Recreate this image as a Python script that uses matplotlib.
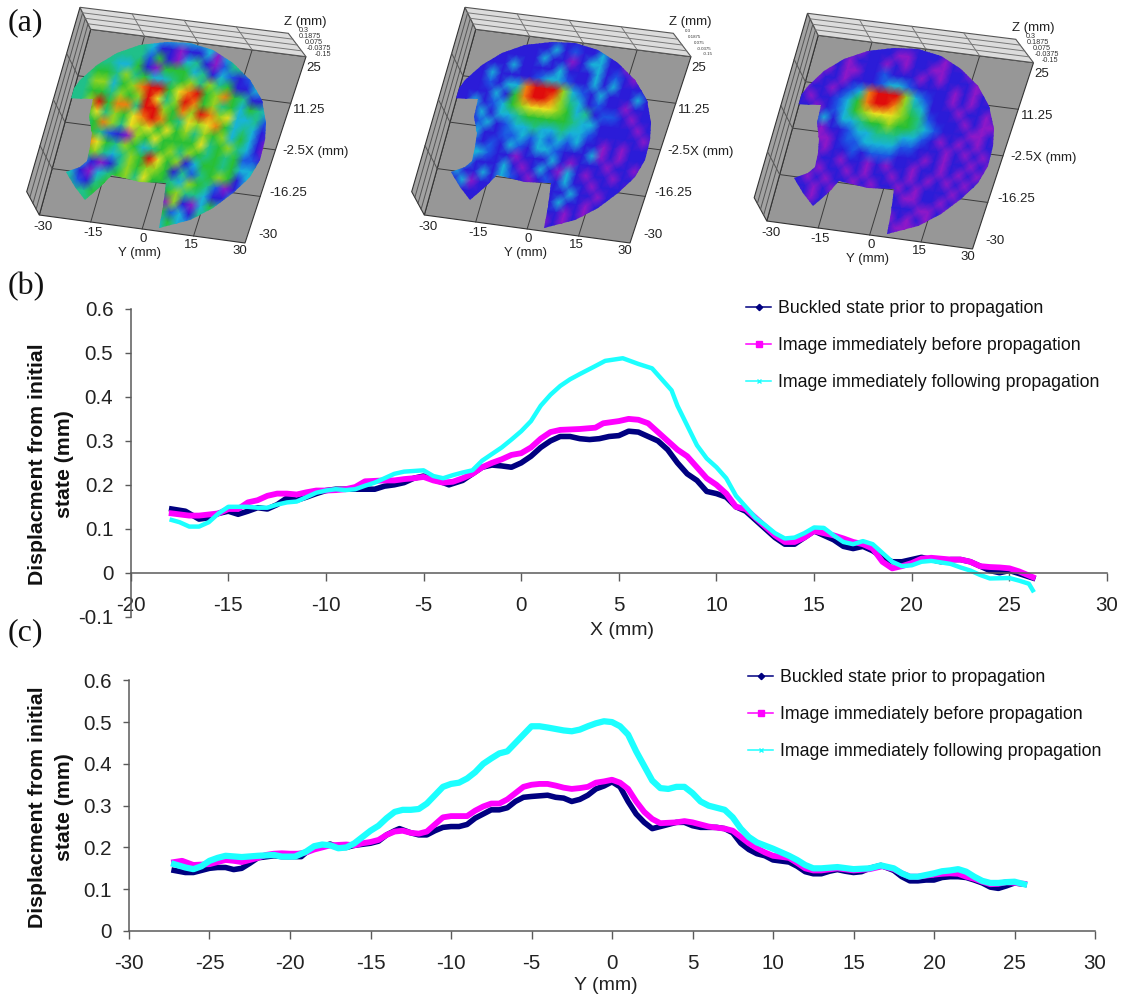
import numpy as np
import matplotlib
matplotlib.use("Agg")
import matplotlib.pyplot as plt
from matplotlib.colors import LinearSegmentedColormap
from matplotlib.lines import Line2D
from matplotlib.patches import Polygon

W, H = 1123, 999

# profile along X, panel (b)
bx1 = [-17.9,-17.2,-16.5,-16,-15.5,-15,-14.5,-14,-13.5,-13,-12.5,-12,-11.5,-11,-10.5,-10,-9.5,-9,-8.5,-8,-7.5,-7,-6.5,-6,-5.5,-5,-4.5,-4,-3.7,-3,-2.5,-2,-1.5,-1,-0.5,0,0.5,1,1.5,2,2.5,3,3.5,4,4.5,5,5.5,6,6.5,7,7.5,8,8.5,9,9.5,10,10.5,11,11.5,12,12.5,13,13.5,14,14.5,15,15.5,16,16.5,17,17.5,18,18.5,19,19.5,20,20.5,21,21.5,22,22.5,23,23.5,24,24.5,25,25.5,26.2]
by1 = [.145,.14,.122,.125,.135,.14,.133,.14,.148,.145,.155,.17,.165,.172,.18,.187,.19,.19,.19,.19,.19,.197,.2,.205,.215,.22,.212,.205,.2,.21,.225,.24,.245,.243,.24,.25,.265,.285,.3,.31,.31,.305,.303,.305,.31,.312,.322,.32,.31,.3,.28,.25,.225,.21,.185,.18,.172,.15,.14,.12,.1,.08,.065,.065,.08,.095,.085,.075,.06,.055,.06,.05,.035,.025,.025,.03,.035,.03,.025,.03,.03,.025,.015,.005,0,.005,-.002,-.012]
bx2 = [-17.9,-17,-16.5,-15.5,-15,-14.5,-14,-13.5,-13,-12.5,-12,-11.5,-11,-10.5,-10,-9.5,-9,-8.5,-8,-7,-6.5,-6,-5.5,-5,-4.5,-4,-3.5,-3,-2.5,-2,-1.5,-1,-.5,0,.5,1,1.5,2,3,3.8,4.2,5,5.5,6,6.5,7,7.5,8,8.5,9,9.5,10,10.5,11,11.5,12,12.5,13,13.5,14,14.5,15,15.5,16,16.5,17,17.5,18,18.5,19,19.5,20,20.5,21,22,22.5,23,23.5,24,24.5,25,25.5,26.2]
by2 = [.135,.13,.13,.135,.145,.145,.16,.165,.175,.18,.18,.178,.183,.187,.187,.188,.19,.195,.208,.21,.21,.213,.215,.218,.21,.205,.207,.215,.225,.24,.25,.258,.268,.272,.285,.305,.32,.325,.327,.33,.34,.345,.35,.348,.34,.32,.3,.28,.265,.24,.215,.2,.18,.15,.145,.125,.105,.085,.07,.07,.08,.095,.09,.085,.078,.07,.065,.055,.025,.01,.015,.022,.032,.034,.03,.03,.025,.015,.013,.012,.01,.003,-.01]
bx3 = [-17.9,-17.5,-17,-16.5,-16,-15.5,-15,-14.5,-14,-13.5,-13,-12.5,-12,-11.5,-11,-10.5,-10,-9.5,-9,-8.5,-8,-7.5,-7,-6.5,-6,-5,-4.5,-4,-3.5,-3,-2.5,-2,-1.5,-1,-.5,0,.5,1,1.5,2,2.5,3,3.7,4.3,5.2,6,6.7,7.2,7.7,8,8.5,9,9.5,10,10.5,11,11.5,12,12.5,13,13.5,14,14.5,15,15.5,16,16.5,17,17.5,18,18.5,19,19.5,20,20.5,21,22,22.5,23,23.5,24,25,25.5,26,26.2]
by3 = [.12,.115,.105,.105,.115,.135,.15,.15,.15,.148,.148,.155,.16,.162,.172,.182,.187,.19,.188,.19,.198,.205,.215,.225,.23,.233,.22,.215,.222,.228,.233,.255,.27,.285,.303,.322,.345,.38,.405,.425,.44,.452,.468,.482,.488,.475,.465,.44,.415,.38,.335,.29,.26,.24,.215,.175,.15,.125,.108,.09,.078,.08,.09,.103,.102,.085,.07,.065,.072,.065,.045,.025,.015,.017,.025,.027,.02,.012,.005,-.005,-.013,-.012,-.018,-.025,-.04]

# profile along Y, panel (c)
cx1 = [-27.2,-26.5,-26,-25.5,-25,-24.5,-24,-23.5,-23,-22.5,-22,-21,-20.5,-20,-19.3,-19,-18.5,-18,-17.5,-17,-16.5,-16,-15,-14.5,-14,-13.5,-13.2,-12.5,-12,-11.5,-11,-10.5,-10,-9.5,-9,-8.5,-8,-7.5,-7,-6.5,-6,-5.5,-5,-4,-3.5,-3,-2.5,-2,-1.5,-1,-.5,0,.5,1,1.5,2,2.5,3,3.5,4,4.5,5,5.5,6.5,7,7.5,8,8.5,9,9.5,10,11,11.5,12,12.5,13,13.5,14,14.5,15,15.5,16,16.7,17.5,18,18.5,19,19.5,20,20.5,21,21.5,22,22.5,23,23.5,24,24.5,25,25.6]
cy1 = [.145,.14,.14,.145,.15,.152,.152,.147,.15,.162,.175,.18,.178,.178,.178,.188,.198,.203,.208,.2,.2,.205,.21,.215,.23,.24,.245,.235,.23,.23,.24,.248,.25,.25,.255,.27,.28,.29,.29,.295,.31,.32,.322,.325,.32,.318,.31,.315,.325,.34,.347,.357,.345,.31,.28,.26,.245,.25,.255,.26,.26,.252,.248,.248,.245,.235,.21,.195,.185,.18,.17,.165,.155,.142,.137,.137,.143,.147,.143,.14,.142,.15,.157,.145,.13,.12,.12,.122,.122,.128,.13,.13,.128,.122,.115,.105,.102,.108,.115,.112]
cx2 = [-27.2,-26.7,-26,-25,-24.5,-24,-23.5,-23,-22.5,-22,-21.5,-21,-20.5,-20,-19.5,-19,-18.5,-18,-17.5,-16.5,-16,-15.5,-15,-14.5,-14,-13.5,-13,-12.5,-12,-11.5,-11,-10.5,-10,-9.5,-9,-8.5,-8,-7.5,-7,-6.5,-6,-5.5,-5,-4.5,-4,-3.5,-3,-2.5,-2,-1.5,-1,-.5,0,.5,1,1.5,2,2.5,3,4,4.5,5,6,7,7.5,8,8.5,9,9.5,10,11,11.5,12,12.5,13,14,15,16,16.8,17.5,18,18.5,19,20,20.5,21,21.5,22,22.5,23,23.5,24,24.5,25.6]
cy2 = [.165,.168,.158,.16,.165,.17,.168,.165,.17,.175,.182,.185,.186,.185,.185,.188,.195,.2,.205,.207,.205,.21,.213,.218,.23,.238,.24,.235,.233,.238,.255,.272,.275,.275,.275,.288,.298,.305,.305,.315,.33,.345,.35,.352,.352,.348,.343,.34,.342,.345,.355,.358,.362,.355,.34,.31,.285,.268,.258,.26,.263,.26,.25,.245,.24,.225,.21,.198,.188,.18,.175,.163,.15,.145,.145,.15,.145,.148,.155,.148,.138,.13,.13,.135,.137,.138,.137,.13,.125,.118,.112,.113,.117,.113]
cx3 = [-27.2,-26.5,-26,-25.5,-25,-24.5,-24,-23,-22,-21,-20.5,-19.7,-19,-18.5,-18,-17.5,-17,-16.5,-16,-15.5,-15,-14.5,-14,-13.5,-13,-12.5,-12,-11.5,-11,-10.5,-10,-9.5,-9,-8.5,-8,-7.5,-7,-6.5,-6,-5.5,-5,-4.5,-4,-3,-2.5,-2,-1.5,-1,-.5,0,.5,1,1.5,2,2.5,3,3.5,4,4.5,5,5.5,6,6.5,7,7.5,8,8.5,9,10,11,11.5,12,12.5,13,14,15,16,16.7,17.5,18,18.5,19,20,20.5,21,21.5,22,22.5,23,23.5,24,24.5,25,25.6]
cy3 = [.16,.152,.148,.155,.168,.175,.18,.177,.18,.182,.178,.178,.19,.203,.207,.205,.198,.2,.21,.225,.24,.252,.27,.285,.29,.29,.292,.305,.325,.345,.352,.355,.365,.38,.4,.413,.425,.43,.45,.47,.49,.49,.487,.48,.478,.482,.49,.497,.502,.5,.49,.47,.43,.395,.36,.342,.34,.345,.345,.33,.31,.3,.295,.29,.272,.245,.225,.212,.197,.18,.17,.158,.15,.15,.153,.148,.15,.157,.15,.138,.13,.13,.138,.143,.145,.148,.142,.13,.12,.115,.115,.117,.118,.112]

labels = ["Buckled state prior to propagation",
          "Image immediately before propagation",
          "Image immediately following propagation"]

surf_a = ["444444433333333344444444","444444431101130344444444","444444425103410244344444","444433510555341321244444",
          "445546453345646451133444","446635689957895685411344","445546569746985645354344","446958849965869867334234",
          "445746578985476785343123","444586476757564656353102","443542106575555745643102","444875465345646545452215",
          "444564346597561355453344","444310146566514245651344","443103456475543654201344","444214564655256443113444",
          "444445453455106103534444","444444444454352314344444","444444444444135334444444","444444444444434444444444"]
surf_b = ["111111111111111111111111","111111111312113111111111","111111113110133110211111","111113111131113121011111",
          "111311112332113131111111","111213389996321311131111","111131589986431211011111","113123567776534122101111",
          "111313345555543311110111","111231233433433211111011","111311223232323110101111","111212132133211130101111",
          "111332110111310111011011","111311131013103101101111","113113132101213110111011","111301131110111311011111",
          "111111101310113110111111","111111100111011010111111","111111111101001011111111","111111111111111111111111"]
surf_c = ["111111111111111111111111","110110111001110100110111","101101110101100110101101","110100112111010111001011",
          "101101112332111101010110","011012389996321101011010","101123589986431110110101","110123567776542111010011",
          "011313345565543211100101","101011233444332101010110","011001223333221110101011","101101121222111010110101",
          "011011011010110110101011","101101101011010101010110","011010110101101011101011","101101011010110011010110",
          "110101100101011100100111","111011010100101010110111","111111001011010001111111","111111111111111111111111"]

# pixel trace of the measured surface in the left view
outline = [(200,295),(240,240),(290,195),(350,160),(420,135),(500,125),(570,130),(640,150),(700,190),(750,240),(785,300),
           (798,370),(795,420),(780,480),(750,530),(700,580),(640,625),(570,660),(478,683),(490,620),(498,550),(420,545),
           (335,525),(300,560),(255,600),(225,560),(198,515),(240,500),(262,482),(270,440),(275,400),(268,350),(280,298)]
z_ticks = ["0.3", "0.1875", "0.075", "-0.0375", "-0.15"]
x3_ticks = ["25", "11.25", "-2.5", "-16.25", "-30"]
y3_ticks = ["-30", "-15", "0", "15", "30"]

rainbow = LinearSegmentedColormap.from_list("r", ["#9018c8", "#2a1cd8", "#1c58e4", "#18b4d8", "#20c088",
                                                  "#28c034", "#94d420", "#ece420", "#f08010", "#e00c0c"])

plt.rcParams["font.family"] = ["Liberation Sans", "DejaVu Sans"]
plt.rcParams["axes.unicode_minus"] = False
fig = plt.figure(figsize=(W / 100, H / 100), dpi=100)
bg = fig.add_axes([0, 0, 1, 1])
bg.set_xlim(0, W)
bg.set_ylim(H, 0)
bg.axis("off")


def bil(c, u, v):
    # c = top-left, top-right, bottom-right, bottom-left
    c = np.asarray(c, float)
    top = c[0] + (c[1] - c[0]) * u
    bot = c[3] + (c[2] - c[3]) * u
    return top + (bot - top) * v


def seg(a, b, **kw):
    bg.plot([a[0], b[0]], [a[1], b[1]], color=kw.get("c", "#3c3c3c"), lw=kw.get("lw", 0.7), zorder=kw.get("z", 2))


def view(dx, dy, rows, zsize):
    floor = np.array([(90.7, 29.3), (306, 56.7), (245, 243), (39.3, 215)]) + (dx, dy)
    lw_top = np.array([80, 7.3]) + (dx, dy)
    lw_bot = np.array([26.7, 191.7]) + (dx, dy)
    tw_right = np.array([288.3, 33.3]) + (dx, dy)
    bg.add_patch(Polygon(floor, fc="#979797", ec="#333333", lw=0.8, zorder=1))
    left = [lw_top, floor[0], floor[3], lw_bot]
    top = [lw_top, tw_right, floor[1], floor[0]]
    bg.add_patch(Polygon(left, fc="#a2a2a2", ec="#333333", lw=0.8, zorder=1))
    bg.add_patch(Polygon(top, fc="#dcdcdc", ec="#555555", lw=0.8, zorder=1))
    # floor and wall grid
    for t in [0.25, 0.5, 0.75]:
        seg(bil(floor, t, 0), bil(floor, t, 1))
        seg(bil(floor, 0, t), bil(floor, 1, t))
        seg(bil(top, t, 0), bil(top, t, 1), c="#777777")
        seg(bil(left, 1, t), bil(left, 0, t), c="#555555")
        seg(bil(left, t, 0), bil(left, t, 1), c="#555555")
        seg(bil(top, 0, t), bil(top, 1, t), c="#777777")
    # surface
    vals = np.array([[int(ch) for ch in r] for r in rows], float)
    uu, vv = np.meshgrid(np.linspace(0, 1, vals.shape[1]), np.linspace(0, 1, vals.shape[0]))
    px = np.zeros(uu.shape)
    py = np.zeros(uu.shape)
    for i in range(uu.shape[0]):
        for j in range(uu.shape[1]):
            px[i, j], py[i, j] = bil(floor, uu[i, j], vv[i, j])
    m = bg.pcolormesh(px, py, vals, cmap=rainbow, vmin=0, vmax=9, shading="gouraud", zorder=3)
    clip = Polygon(np.array(outline) / 3.0 + (dx, dy), transform=bg.transData)
    m.set_clip_path(clip)
    # tick text
    tx = dict(fontsize=9.5, color="#222222", ha="center", va="center", zorder=5)
    bg.text(305.7 + dx, 21.7 + dy, "Z (mm)", **tx)
    for s, p in zip(x3_ticks, [(314, 68.3), (309.3, 110), (294.3, 150.7), (288.3, 192.7), (267.7, 235)]):
        bg.text(p[0] + dx, p[1] + dy, s, **tx)
    bg.text(326.7 + dx, 151.7 + dy, "X (mm)", **tx)
    for s, p in zip(y3_ticks, [(43.3, 226.7), (92.7, 233.3), (143.3, 239), (191.7, 245), (240, 250.7)]):
        bg.text(p[0] + dx, p[1] + dy, s, **tx)
    bg.text(140 + dx, 253.3 + dy, "Y (mm)", **tx)
    for s, p in zip(z_ticks, [(303.3, 31), (310, 36.7), (314, 42.7), (319.3, 48.7), (322.7, 54.3)]):
        bg.text(p[0] + dx, p[1] + dy, s, fontsize=zsize, color="#333333", ha="center", va="center", zorder=5)


view(0, 0, surf_a, 5.2)
view(385, 0, surf_b, 3.2)
view(727.5, 6, surf_c, 5.2)


def profile(l, r, t, b, xlim, ylim, yticks, series, lws, leg_xy):
    ax = fig.add_axes([l / W, 1 - b / H, (r - l) / W, (b - t) / H])
    ax.patch.set_alpha(0)
    for (x, y), col, lw in zip(series, ["#000080", "#ff00ff", "#1cffff"], lws):
        ax.plot(x, y, color=col, lw=lw, solid_joinstyle="round", clip_on=False)
    ax.set_xlim(*xlim)
    ax.set_ylim(*ylim)
    ax.set_xticks(np.arange(xlim[0], xlim[1] + 1, 5))
    ax.set_yticks(yticks)
    ax.set_yticklabels(["0" if v == 0 else "%g" % v for v in yticks])
    for s in ["top", "right"]:
        ax.spines[s].set_visible(False)
    ax.spines["bottom"].set_position(("data", 0))
    for s in ["left", "bottom"]:
        ax.spines[s].set_color("#5a5a5a")
        ax.spines[s].set_linewidth(1.1)
    ax.tick_params(axis="x", length=5.8, width=1.0, color="#5a5a5a", labelsize=14.8, labelcolor="#222222", pad=11)
    ax.tick_params(axis="y", length=4.5, width=1.0, color="#5a5a5a", labelsize=14.8, labelcolor="#222222", pad=8)
    hs = [Line2D([], [], color="#000080", lw=1.1, marker="D", ms=3.2),
          Line2D([], [], color="#ff00ff", lw=1.1, marker="s", ms=4),
          Line2D([], [], color="#1cffff", lw=1.1, marker="x", ms=3.5)]
    fig.legend(handles=hs, labels=labels, loc="upper left", bbox_to_anchor=(leg_xy[0] / W, 1 - leg_xy[1] / H),
               frameon=False, fontsize=12.75, borderpad=0, borderaxespad=0, handlelength=1.42, handletextpad=0.4,
               labelspacing=1.14, labelcolor="#111111")
    return ax


profile(130.7, 1107, 309, 616.7, (-20, 30), (-0.1, 0.6), [-0.1, 0, 0.1, 0.2, 0.3, 0.4, 0.5, 0.6],
        [(bx1, by1), (bx2, by2), (bx3, by3)], [4.0, 4.2, 3.2], (746, 300))
profile(129, 1095, 680.3, 931, (-30, 30), (0, 0.6), [0, 0.1, 0.2, 0.3, 0.4, 0.5, 0.6],
        [(cx1, cy1), (cx2, cy2), (cx3, cy3)], [4.0, 4.2, 4.5], (748, 669))

# panel letters and axis titles
for s, y in zip(["(a)", "(b)", "(c)"], [23, 287, 633]):
    bg.text(8, y, s, fontsize=23, family="Liberation Serif", color="#111111", ha="left", va="center")
for yc in [464, 807.5]:
    bg.text(51, yc, "Displacment from initial\nstate (mm)", fontsize=15.3, fontweight="bold", rotation=90,
            ha="center", va="center", multialignment="center", linespacing=1.5, color="#111111")
bg.text(622.5, 630.5, "X (mm)", fontsize=14, ha="center", va="center", color="#222222")
bg.text(606, 986, "Y (mm)", fontsize=14, ha="center", va="center", color="#222222")

fig.savefig("out.png", dpi=100)
